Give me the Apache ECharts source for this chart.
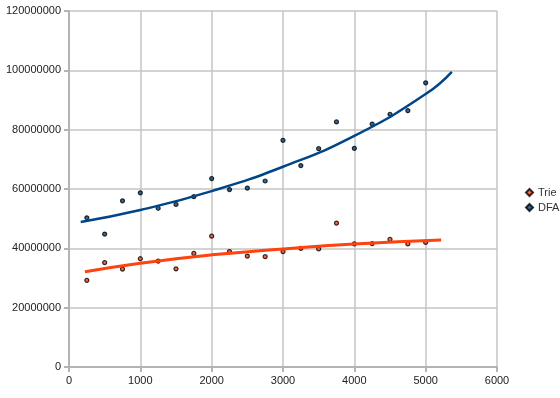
<!DOCTYPE html>
<html>
<head>
<meta charset="utf-8">
<script src="https://cdn.jsdelivr.net/npm/echarts@6/dist/echarts.min.js"></script>
<style>
  html, body { margin: 0; padding: 0; background: #fff; }
  #chart { width: 560px; height: 398px; }
</style>
</head>
<body>
<div id="chart"></div>
<script>
// sizes sampled on the x axis
const sizes = [250, 500, 750, 1000, 1250, 1500, 1750, 2000, 2250, 2500,
  2750, 3000, 3250, 3500, 3750, 4000, 4250, 4500, 4750, 5000]

const trieValues = [29.2, 35.2, 33.0, 36.5, 35.7, 33.1, 38.3, 44.1, 38.9, 37.4,
  37.2, 38.9, 40.0, 39.8, 48.5, 41.5, 41.6, 43.0, 41.5, 42.0]
const dfaValues = [50.3, 44.8, 56.0, 58.7, 53.5, 54.8, 57.4, 63.5, 59.8, 60.3,
  62.7, 76.4, 67.9, 73.6, 82.6, 73.7, 81.9, 85.2, 86.4, 95.8]

// trend lines
const trieTrendX = [224, 1000, 2000, 3000, 4000, 5217]
const trieTrendY = [32.1, 35.0, 37.8, 39.8, 41.5, 42.8]
const dfaTrendX = [164, 1000, 2000, 3000, 4000, 5000, 5367]
const dfaTrendY = [48.9, 52.9, 59.3, 67.5, 77.9, 92.0, 99.5]

const M = 1000000
const pairs = (xs, ys) => xs.map((x, i) => [x, ys[i] * M])

const chart = echarts.init(document.getElementById('chart'))
const axisGray = '#b3b3b3'
const labelStyle = { color: '#222', fontFamily: 'Liberation Sans', fontSize: 11 }

chart.setOption({
  animation: false,
  color: ['#ff420e', '#004586'],
  grid: { left: 69, right: 63, top: 11, bottom: 31 },
  legend: {
    orient: 'vertical',
    left: 525,
    top: 187,
    padding: 0,
    itemWidth: 7,
    itemHeight: 7,
    itemGap: 4,
    icon: 'diamond',
    data: ['Trie', 'DFA'],
    textStyle: { color: '#333', fontFamily: 'Liberation Sans', fontSize: 11, padding: [0, 0, 0, 0] }
  },
  xAxis: {
    type: 'value',
    min: 0,
    max: 6000,
    interval: 1000,
    axisLine: { lineStyle: { color: axisGray, width: 2 } },
    axisTick: { show: true, length: 5, lineStyle: { color: axisGray, width: 2 } },
    axisLabel: { ...labelStyle, margin: 8, formatter: (v) => String(v) },
    splitLine: { lineStyle: { color: '#c4c4c4', width: 1.5 } }
  },
  yAxis: {
    type: 'value',
    min: 0,
    max: 120000000,
    interval: 20000000,
    axisLine: { show: true, lineStyle: { color: axisGray, width: 2 } },
    axisTick: { show: true, length: 5, lineStyle: { color: axisGray, width: 2 } },
    axisLabel: { ...labelStyle, margin: 8, formatter: (v) => String(v) },
    splitLine: { lineStyle: { color: '#c4c4c4', width: 1.5 } }
  },
  series: [
    {
      name: 'Trie',
      type: 'scatter',
      symbol: 'circle',
      symbolSize: 4,
      itemStyle: { color: '#ff420e', borderColor: '#000', borderWidth: 1.2 },
      data: pairs(sizes, trieValues)
    },
    {
      name: 'DFA',
      type: 'scatter',
      symbol: 'circle',
      symbolSize: 4,
      itemStyle: { color: '#004586', borderColor: '#000', borderWidth: 1.2 },
      data: pairs(sizes, dfaValues)
    },
    {
      name: 'Trie trend',
      type: 'line',
      smooth: true,
      showSymbol: false,
      z: 3,
      lineStyle: { color: '#ff420e', width: 3 },
      data: pairs(trieTrendX, trieTrendY)
    },
    {
      name: 'DFA trend',
      type: 'line',
      smooth: true,
      showSymbol: false,
      z: 3,
      lineStyle: { color: '#004586', width: 2.5 },
      data: pairs(dfaTrendX, dfaTrendY)
    }
  ]
})
</script>
</body>
</html>
